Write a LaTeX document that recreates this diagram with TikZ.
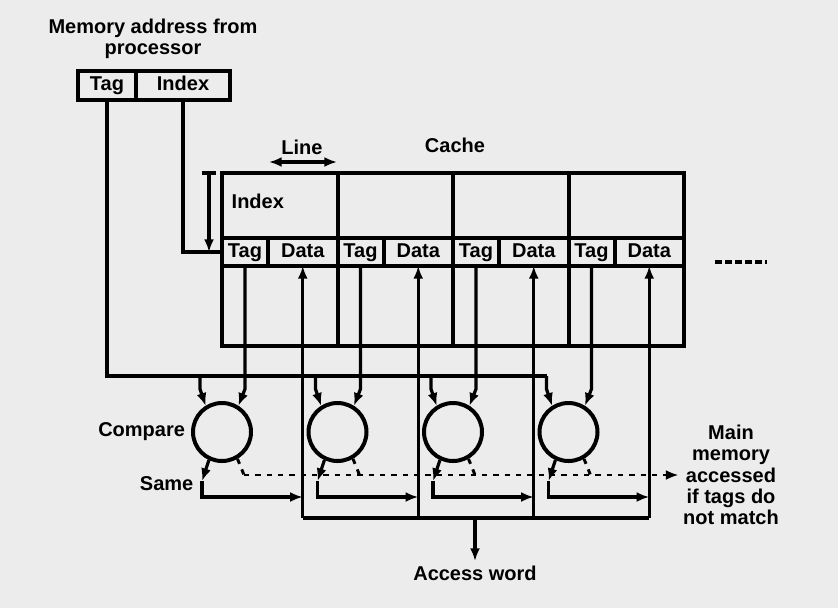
\documentclass[tikz,border=0pt]{standalone}
\usepackage{fontspec}
\setmainfont{Liberation Sans}
\usetikzlibrary{arrows.meta, positioning, calc}
\definecolor{paper}{RGB}{236,236,236}

\begin{document}
\begin{tikzpicture}[x=0.75pt, y=-0.75pt,
    font=\fontsize{15}{16}\selectfont\bfseries,
    line/.style={line width=2.4pt},
    box/.style={line width=3pt},
    arr/.style={line width=2.4pt, -{Latex[length=9.5pt, width=7.5pt]}},
    miss/.style={line width=2.2pt, dash pattern=on 4pt off 4.5pt},
    cell/.style={draw, line width=3pt, minimum height=21pt, inner sep=0pt, outer sep=0pt,
        text height=10.5pt, text depth=3pt},
    cmpr/.style={draw, circle, line width=3pt, minimum size=43.5pt, inner sep=0pt}]
    \fill[paper] (0,0) rectangle (838,608);
    \useasboundingbox (0,0) rectangle (838,608);

    \node[align=center] (title) at (153,39) {Memory address from\\processor};
    \node[cell, minimum width=43.5pt, minimum height=21.75pt, anchor=north west] (atag) at (78,71) {Tag};
    \node[cell, minimum width=70.5pt, minimum height=21.75pt, anchor=north west] (aidx) at (atag.north east) {Index};

    \node (cachelbl) at (455,145) {Cache};
    \node (linelbl) at (302,147) {Line};
    \draw[line, {Latex[length=9.5pt, width=7.5pt]}-{Latex[length=9.5pt, width=7.5pt]}] (269,162) -- (337,162);

    \coordinate (ctop) at (222,173);
    \coordinate (cbot) at (684,346);
    \coordinate (sameline) at (0,497);
    \coordinate (busy) at (0,518);

    \foreach \i [evaluate=\i as \xl using 222+115.5*(\i-1)] in {1,...,4} {
        \node[cell, minimum width=34.5pt, anchor=north west] (t\i) at (\xl,238) {Tag};
        \node[cell, minimum width=52.125pt, anchor=north west] (d\i) at (t\i.north east) {Data};
        \node[cmpr] (cmp\i) at (\xl,432) {};
    }
    \draw[box] (ctop) rectangle (cbot);
    \foreach \i in {2,3,4} {
        \draw[box] (t\i.north west |- ctop) -- (t\i.north west);
        \draw[box] (t\i.south west) -- (t\i.south west |- cbot);
    }
    \node[anchor=west] (idxlbl) at (227,201) {Index};
    \draw[line] (202,173) -- (216,173);
    \draw[arr] (209,173) -- (209,252);
    \draw[line, dash pattern=on 5pt off 2.5pt] (715,262) -- (767,262);

    \draw[line] (aidx.south) |- (t1.west);
    \draw[line] (atag.south) |- ($(cmp4)+(-22,-56)$);

    \foreach \i in {1,...,4} {
        \draw[arr] ($(cmp\i)+(-22,-56)$) -- ++(0,13) -- (cmp\i.122);
        \draw[arr] (t\i.south) -- ($(cmp\i)+(23,-43)$) -- (cmp\i.58);
        \draw[arr] (d\i.south |- busy) -- (d\i.south);
        \coordinate (s\i) at ($(cmp\i)+(-20,49)$);
        \draw[arr] (cmp\i.245) -- (s\i);
        \draw[arr] (s\i) |- (d\i.south |- sameline);
        \draw[miss] (cmp\i.300) -- ($(cmp\i)+(22,43)$);
    }
    \draw[line] (d1.south |- busy) -- (d4.south |- busy);

    \node (acc) at (475,573) {Access word};
    \draw[arr] (acc.north |- busy) -- (acc.north);

    \node[align=center] (mm) at (731,475) {Main\\memory\\accessed\\if tags do\\not match};
    \draw[miss, -{Latex[length=9.5pt, width=7.5pt]}] ($(cmp1)+(22,43)$) -- (mm.west);

    \node[left=1pt of cmp1] (cmplbl) {Compare};
    \node[anchor=east] (samelbl) at (198,484) {Same};
\end{tikzpicture}
\end{document}
